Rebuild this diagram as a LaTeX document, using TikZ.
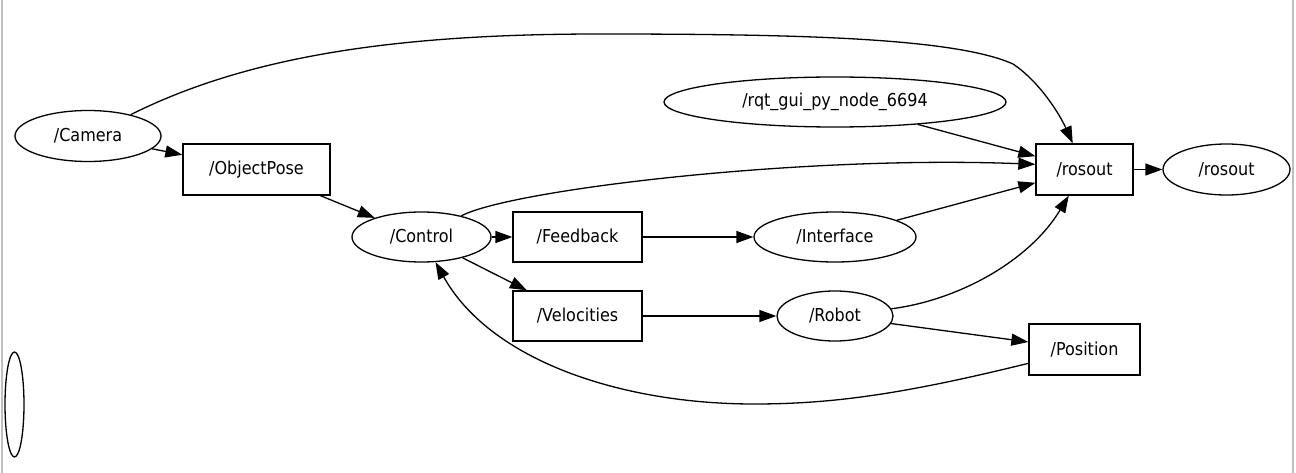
\documentclass[tikz,border=0pt]{standalone}
\usepackage{fontspec}
\setmainfont{DejaVu Sans}[FakeStretch=0.9]
\usetikzlibrary{shapes.geometric,arrows.meta}
\begin{document}
\begin{tikzpicture}[x=1pt,y=-1pt,
  every node/.style={font=\fontsize{17.8}{20}\selectfont, line width=1.3pt, inner sep=0pt},
  ell/.style={ellipse, draw, minimum width=#1, minimum height=50pt},
  box/.style={rectangle, draw, minimum width=#1, minimum height=51pt},
  edge/.style={line width=1.3pt, -{Triangle[length=17pt,width=12pt]}},
  border/.style={draw=black!25, line width=2pt}]
\useasboundingbox (0,0) rectangle (1296,473);
\draw[border] (2,0) -- (2,473);
\draw[border] (1293,0) -- (1293,473);

\node[ell=146pt, minimum height=51pt] (cam) at (88,136) {/Camera};
\node[box=147pt] (objpose) at (256.5,169.5) {/ObjectPose};
\node[ell=139pt] (ctrl) at (421.5,237) {/Control};
\node[box=129pt, minimum height=50pt] (feed) at (577.5,237) {/Feedback};
\node[box=129pt, minimum height=50pt] (vel) at (577.5,316) {/Velocities};
\node[ell=162pt] (iface) at (835,237) {/Interface};
\node[ell=116pt] (robot) at (835,316) {/Robot};
\node[ell=342pt] (rqt) at (835,102) {/rqt\_gui\_py\_node\_6694};
\node[box=97pt] (rosr) at (1084.5,169.5) {/rosout};
\node[ell=127pt, minimum height=51pt] (rose) at (1226.5,169.5) {/rosout};
\node[box=111pt] (pos) at (1084.5,349.5) {/Position};
\node[ell=19pt, minimum height=105pt] (empty) at (14.5,404.5) {};

\coordinate (c1) at (600,34);
\coordinate (c2) at (1013,64);
\coordinate (c3) at (754,404);

\draw[edge] (cam) .. controls (250,55) and (400,34) .. (c1)
  .. controls (800,34) and (955,38) .. (c2)
  .. controls (1040,82) and (1060,115) .. (rosr);
\draw[edge] (cam) -- (objpose);
\draw[edge] (objpose) -- (ctrl);
\draw[edge] (ctrl) .. controls (510,190) and (800,155) .. (rosr.174);
\draw[edge] (ctrl) -- (feed);
\draw[edge] (ctrl) -- (vel);
\draw[edge] (feed) -- (iface);
\draw[edge] (vel) -- (robot);
\draw[edge] (iface) -- (rosr);
\draw[edge] (rqt) -- (rosr);
\draw[edge] (robot) .. controls (960,300) and (1030,260) .. (rosr);
\draw[edge] (robot) -- (pos);
\draw[edge] (rosr) -- (rose);
\draw[edge] (pos) .. controls (900,395) and (830,404) .. (c3)
  .. controls (620,404) and (490,360) .. (ctrl);
\end{tikzpicture}
\end{document}
